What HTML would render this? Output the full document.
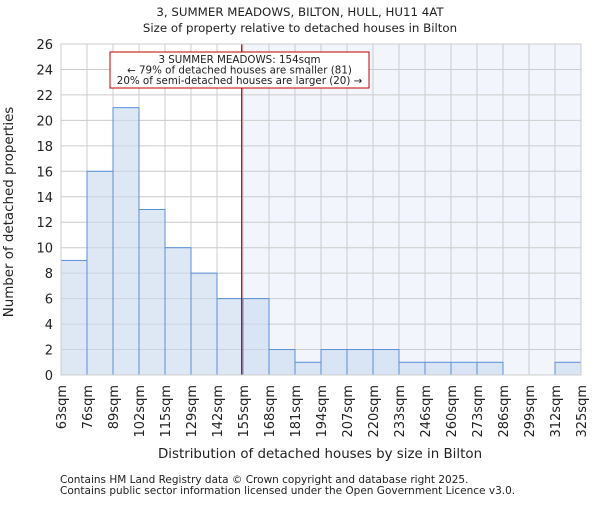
<!DOCTYPE html>
<html><head><meta charset="utf-8"><style>body{margin:0;background:#fff}svg text{font-family:"DejaVu Sans","Liberation Sans",sans-serif;fill:#222}</style></head>
<body>
<svg id="c" width="600" height="500" xmlns="http://www.w3.org/2000/svg">
<text x="300" y="16" font-size="11.8" text-anchor="middle">3, SUMMER MEADOWS, BILTON, HULL, HU11 4AT</text>
<text x="300" y="32" font-size="11.8" text-anchor="middle">Size of property relative to detached houses in Bilton</text>
<g id="plot"></g>
<text x="320" y="458" font-size="13.4" text-anchor="middle">Distribution of detached houses by size in Bilton</text>
<text transform="translate(13,212) rotate(-90)" font-size="13.4" text-anchor="middle">Number of detached properties</text>
<text x="60" y="483" font-size="10.5" fill="#444">Contains HM Land Registry data © Crown copyright and database right 2025.</text>
<text x="60" y="494" font-size="10.5" fill="#444">Contains public sector information licensed under the Open Government Licence v3.0.</text>
</svg>
<script>
const tickLabels=["63sqm","76sqm","89sqm","102sqm","115sqm","129sqm","142sqm","155sqm","168sqm","181sqm","194sqm","207sqm","220sqm","233sqm","246sqm","260sqm","273sqm","286sqm","299sqm","312sqm","325sqm"];
const counts=[9,16,21,13,10,8,6,6,2,1,2,2,2,1,1,1,1,0,0,1];
const yTicks=[0,2,4,6,8,10,12,14,16,18,20,22,24,26];
const propertyBinPos=6.95;
const NS="http://www.w3.org/2000/svg";
const g=document.getElementById('plot');
const X0=61,X1=581,Y0=375,Y1=44,yMax=26;
const bw=(X1-X0)/counts.length;
const x=i=>X0+i*bw, y=v=>Y0-(v/yMax)*(Y0-Y1);
function el(t,a){const e=document.createElementNS(NS,t);for(const k in a)e.setAttribute(k,a[k]);g.appendChild(e);return e;}
const lx=x(propertyBinPos);
let e=el('rect',{x:lx,y:Y1,width:X1-lx,height:Y0-Y1,fill:'#f2f5fc'});

yTicks.forEach(t=>{let l=el('line',{x1:X0,x2:X1,y1:y(t),y2:y(t),stroke:'#ccc'});

let tx=el('text',{x:X0-8,y:y(t)+5,'font-size':13,'text-anchor':'end'});tx.textContent=t;
});
tickLabels.forEach((s,i)=>{let l=el('line',{x1:x(i),x2:x(i),y1:Y1,y2:Y0,stroke:'#ccc'});

let tx=el('text',{transform:`translate(${x(i)+5},${Y0+10}) rotate(-90)`,'font-size':13,'text-anchor':'end'});tx.textContent=s;
});
counts.forEach((v,i)=>{if(!v)return;let r=el('rect',{x:x(i),y:y(v),width:bw,height:Y0-y(v),fill:'rgba(200,216,238,0.6)',stroke:'#5a8fd8','stroke-width':1});
});
e=el('line',{x1:lx,x2:lx,y1:Y1,y2:Y0,stroke:'#b00000','stroke-width':1.2});

e=el('rect',{x:110,y:52,width:259,height:36,fill:'#fff',stroke:'#c00000','stroke-width':1});

["3 SUMMER MEADOWS: 154sqm","← 79% of detached houses are smaller (81)","20% of semi-detached houses are larger (20) →"].forEach((s,i)=>{
let tx=el('text',{x:239.5,y:63+i*10.5,'font-size':10.3,'text-anchor':'middle'});tx.textContent=s;
});
e=el('rect',{x:X0,y:Y1,width:X1-X0,height:Y0-Y1,fill:'none',stroke:'#ccc'});

</script>
</body></html>
